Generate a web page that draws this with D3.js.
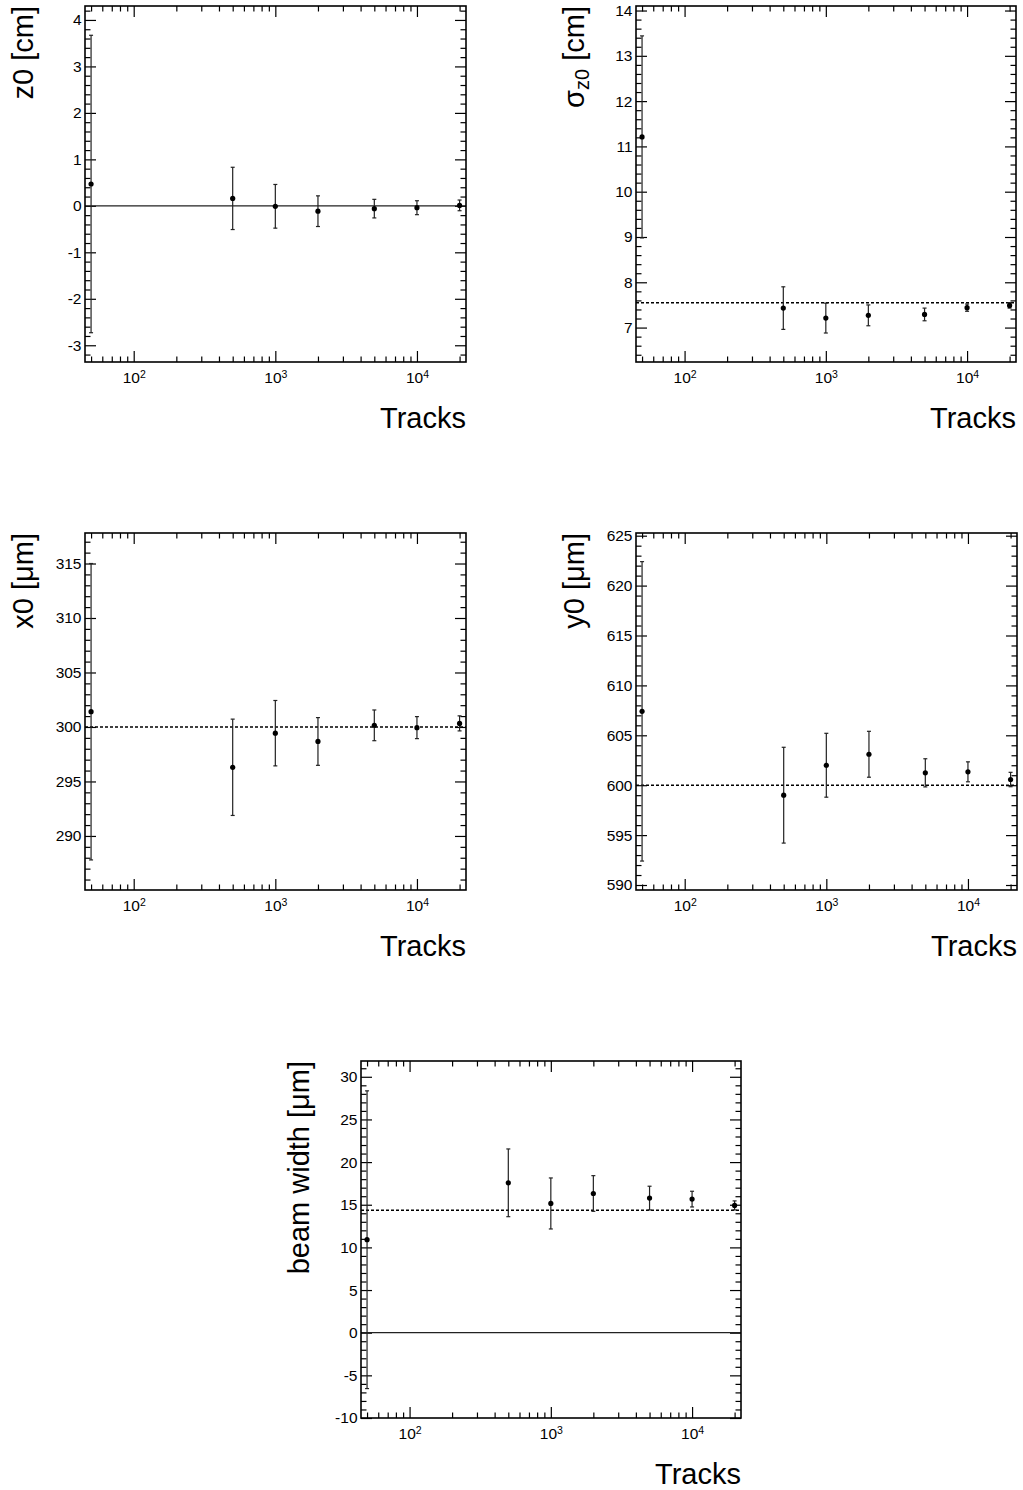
<!DOCTYPE html>
<html>
<head>
<meta charset="utf-8">
<script src="https://cdn.jsdelivr.net/npm/d3@7"></script>
<style>
  body { margin: 0; background: #fff; }
  text { font-family: "Liberation Sans", Arial, sans-serif; fill: #000; }
</style>
</head>
<body>
<svg id="vis" width="1023" height="1490"></svg>
<script>
// number of tracks used for each fit
var tracks = [50, 500, 1000, 2000, 5000, 10000, 20000];

var z0 = [0.47, 0.16, -0.01, -0.115, -0.06, -0.04, 0.01];
var z0Err = [3.2, 0.67, 0.47, 0.33, 0.2, 0.15, 0.115];

var sigmaZ0 = [11.21, 7.43, 7.21, 7.27, 7.29, 7.44, 7.49];
var sigmaZ0Err = [2.23, 0.47, 0.33, 0.23, 0.14, 0.08, 0.06];
var sigmaZ0Ref = 7.55;

var x0 = [301.4, 296.3, 299.43, 298.67, 300.15, 299.94, 300.33];
var x0Err = [13.6, 4.42, 3.0, 2.19, 1.41, 1.01, 0.69];
var x0Ref = 300;

var y0 = [607.4, 599.0, 602.0, 603.1, 601.24, 601.34, 600.57];
var y0Err = [15.0, 4.8, 3.2, 2.3, 1.41, 1.0, 0.72];
var y0Ref = 600;

var beamWidth = [10.9, 17.57, 15.15, 16.32, 15.78, 15.66, 14.92];
var beamWidthErr = [17.45, 3.97, 2.99, 2.09, 1.39, 0.92, 0.53];
var beamWidthRef = 14.35;

var xTicks = [100, 1000, 10000];

var svg = d3.select("#vis");
var xDomain = [45.3, 22200];

function minorLogTicks() {
  var t = [];
  for (var e = 1; e <= 4; e++) {
    for (var m = 2; m <= 9; m++) {
      var v = m * Math.pow(10, e);
      if (v > xDomain[0] && v < xDomain[1]) t.push(v);
    }
  }
  return t;
}

function drawPanel(p) {
  var g = svg.append("g").attr("transform", `translate(${p.x},${p.y})`);

  var xScale = d3.scaleLog().domain(xDomain).range([0, p.w]);
  var yScale = d3.scaleLinear().domain(p.yDomain).range([p.h, 0]);

  var majorY = d3.range(Math.ceil(p.yDomain[0] / p.major) * p.major, p.yDomain[1] + 1e-9, p.major);
  var minorY = d3.range(Math.ceil(p.yDomain[0] / p.minor) * p.minor, p.yDomain[1] + 1e-9, p.minor)
    .map(v => +v.toFixed(6))
    .filter(v => Math.abs(v / p.major - Math.round(v / p.major)) > 1e-6);

  // y axes (ticks inward on both sides)
  var left = g.append("g")
    .call(d3.axisLeft(yScale).tickValues(majorY).tickSizeInner(-11).tickSizeOuter(0)
      .tickPadding(3.5).tickFormat(d => String(Math.round(d))));
  left.selectAll(".tick text").attr("font-size", "15.5px").attr("font-family", "Liberation Sans, Arial, sans-serif");
  g.append("g").call(d3.axisLeft(yScale).tickValues(minorY).tickSizeInner(-5.5).tickSizeOuter(0).tickFormat(""));
  g.append("g").attr("transform", `translate(${p.w},0)`)
    .call(d3.axisRight(yScale).tickValues(majorY).tickSizeInner(-11).tickSizeOuter(0).tickFormat(""));
  g.append("g").attr("transform", `translate(${p.w},0)`)
    .call(d3.axisRight(yScale).tickValues(minorY).tickSizeInner(-5.5).tickSizeOuter(0).tickFormat(""));

  // x axes
  var bottom = g.append("g").attr("transform", `translate(0,${p.h})`)
    .call(d3.axisBottom(xScale).tickValues(xTicks).tickSizeInner(-11).tickSizeOuter(0).tickPadding(10));
  bottom.selectAll(".tick text").each(function(d) {
    var t = d3.select(this).text(null)
      .attr("font-size", "15.5px").attr("font-family", "Liberation Sans, Arial, sans-serif");
    t.append("tspan").text("10");
    t.append("tspan").attr("dy", "-0.45em").attr("font-size", "10.5px").text(Math.round(Math.log10(d)));
  });
  g.append("g").attr("transform", `translate(0,${p.h})`)
    .call(d3.axisBottom(xScale).tickValues(minorLogTicks()).tickSizeInner(-5.5).tickSizeOuter(0).tickFormat(""));
  g.append("g")
    .call(d3.axisTop(xScale).tickValues(xTicks).tickSizeInner(-11).tickSizeOuter(0).tickFormat(""));
  g.append("g")
    .call(d3.axisTop(xScale).tickValues(minorLogTicks()).tickSizeInner(-5.5).tickSizeOuter(0).tickFormat(""));

  g.selectAll(".domain").remove();
  g.selectAll(".tick line").attr("stroke", "#000").attr("stroke-width", 1.2);

  // reference lines
  if (p.zeroLine) {
    g.append("line")
      .attr("x1", 0).attr("x2", p.w)
      .attr("y1", yScale(0)).attr("y2", yScale(0))
      .attr("stroke", "#222").attr("stroke-width", 1.2);
  }
  if (p.ref !== undefined) {
    g.append("line")
      .attr("x1", 0).attr("x2", p.w)
      .attr("y1", yScale(p.ref)).attr("y2", yScale(p.ref))
      .attr("stroke", "#000").attr("stroke-width", 1.5)
      .attr("stroke-dasharray", "3,2");
  }

  var pts = tracks.map((t, i) => ({ t: t, v: p.values[i], e: p.errors[i] }));

  // error bars
  var bars = g.append("g").selectAll("g").data(pts).enter().append("g")
    .attr("stroke", "#222").attr("stroke-width", 1.2);
  bars.append("line")
    .attr("x1", d => xScale(d.t)).attr("x2", d => xScale(d.t))
    .attr("y1", d => yScale(d.v + d.e)).attr("y2", d => yScale(d.v - d.e));
  bars.append("line")
    .attr("x1", d => xScale(d.t) - 2).attr("x2", d => xScale(d.t) + 2)
    .attr("y1", d => yScale(d.v + d.e)).attr("y2", d => yScale(d.v + d.e));
  bars.append("line")
    .attr("x1", d => xScale(d.t) - 2).attr("x2", d => xScale(d.t) + 2)
    .attr("y1", d => yScale(d.v - d.e)).attr("y2", d => yScale(d.v - d.e));

  g.append("g").selectAll("circle").data(pts).enter().append("circle")
    .attr("cx", d => xScale(d.t))
    .attr("cy", d => yScale(d.v))
    .attr("r", 2.6)
    .attr("fill", "#000");

  // frame
  g.append("rect")
    .attr("width", p.w).attr("height", p.h)
    .attr("fill", "none").attr("stroke", "#000").attr("stroke-width", 1.6);

  // titles
  var yt = g.append("text")
    .attr("transform", `translate(-52,0) rotate(-90)`)
    .attr("text-anchor", "end")
    .attr("font-size", "29px");
  p.yTitle(yt);

  g.append("text")
    .attr("x", p.w).attr("y", p.h + 66)
    .attr("text-anchor", "end")
    .attr("font-size", "29px")
    .text("Tracks");
}

drawPanel({
  x: 85, y: 6, w: 381, h: 356, yDomain: [-3.36, 4.30], major: 1, minor: 0.2,
  values: z0, errors: z0Err, zeroLine: true,
  yTitle: t => t.text("z0 [cm]")
});

drawPanel({
  x: 636, y: 6, w: 380, h: 356, yDomain: [6.24, 14.1], major: 1, minor: 0.2,
  values: sigmaZ0, errors: sigmaZ0Err, ref: sigmaZ0Ref,
  yTitle: t => {
    t.append("tspan").text("σ");
    t.append("tspan").attr("font-size", "20px").attr("dy", "5").text("z0");
    t.append("tspan").attr("dy", "-5").text(" [cm]");
  }
});

drawPanel({
  x: 85, y: 533, w: 381, h: 357, yDomain: [285.04, 317.8], major: 5, minor: 1,
  values: x0, errors: x0Err, ref: x0Ref,
  yTitle: t => t.text("x0 [μm]")
});

drawPanel({
  x: 636, y: 533, w: 381, h: 357, yDomain: [589.5, 625.27], major: 5, minor: 1,
  values: y0, errors: y0Err, ref: y0Ref,
  yTitle: t => t.text("y0 [μm]")
});

drawPanel({
  x: 361, y: 1061, w: 380, h: 357, yDomain: [-10, 31.85], major: 5, minor: 1,
  values: beamWidth, errors: beamWidthErr, ref: beamWidthRef, zeroLine: true,
  yTitle: t => t.text("beam width [μm]")
});
</script>
</body>
</html>
